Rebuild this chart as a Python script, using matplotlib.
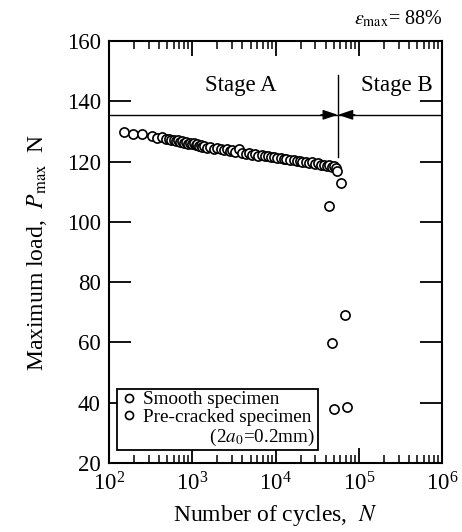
import matplotlib
matplotlib.use("Agg")
import matplotlib.pyplot as plt
from matplotlib.lines import Line2D
from matplotlib.ticker import LogLocator, NullFormatter, FixedLocator

plt.rcParams['font.family'] = ['Liberation Serif', 'DejaVu Serif']
plt.rcParams['mathtext.fontset'] = 'stix'

# Smooth specimen data (cycles, max load N)
smooth_N = [150, 195, 250, 330, 380, 430, 480, 520, 560, 600, 640, 680, 720, 760,
            800, 850, 900, 950, 1000, 1050, 1100, 1150, 1200, 1260, 1320, 1400,
            1500, 1650, 1800, 2000, 2200, 2400, 2600, 2800, 3000, 3300, 3600,
            4000, 4400, 4800, 5200, 5700, 6200, 6800, 7400, 8000, 8800, 9600,
            10500, 11500, 12500, 13500, 15000, 16500, 18000, 19500, 21000,
            23000, 25000, 27000, 29500, 32000, 35000, 38000, 41000, 44000,
            47000, 50000, 53000]
smooth_P = [129.8, 129.0, 129.1, 128.4, 127.8, 128.0, 127.5, 127.6, 127.1, 127.3,
            126.8, 127.0, 126.5, 126.7, 126.2, 126.4, 125.9, 126.1, 125.7, 126.0,
            125.4, 125.7, 125.1, 125.4, 124.9, 125.1, 124.6, 124.8, 124.3, 124.5,
            124.0, 123.8, 124.1, 123.5, 123.7, 123.2, 124.1, 122.9, 122.6, 122.8,
            122.3, 122.5, 122.0, 122.1, 121.7, 121.9, 121.4, 121.5, 121.1, 121.2,
            120.8, 120.9, 120.5, 120.6, 120.2, 120.3, 119.9, 120.0, 119.6, 119.7,
            119.3, 119.4, 119.0, 118.9, 118.6, 118.7, 118.3, 118.5, 117.9]

# Pre-cracked specimen data
crack_N = [55200, 61200, 43500, 68400, 48100, 50900, 71600]
crack_P = [117.0, 112.8, 105.3, 69.1, 59.9, 37.8, 38.5]

stage_P = 135.5
stage_N = 56000
stage_line = (121.5, 148.7)

fig = plt.figure(figsize=(4.62, 5.32), dpi=100)
ax = fig.add_axes([0.236, 0.1297, 0.721, 0.7933])

mk = dict(marker='o', linestyle='none', markersize=6.6, markerfacecolor='white',
          markeredgecolor='black', markeredgewidth=1.2)
ax.plot(smooth_N, smooth_P, **mk, zorder=3)
ax.plot(crack_N, crack_P, **mk, zorder=3)

ax.set_xscale('log')
ax.set_xlim(1e2, 1e6)
ax.set_ylim(20, 160)
ax.yaxis.set_major_locator(FixedLocator([20, 40, 60, 80, 100, 120, 140, 160]))
ax.xaxis.set_major_locator(LogLocator(base=10, numticks=10))
ax.xaxis.set_minor_locator(LogLocator(base=10, subs=range(2, 10), numticks=20))
ax.xaxis.set_minor_formatter(NullFormatter())

ax.tick_params(axis='both', which='major', direction='in', top=True, right=True,
               labelsize=16.5, width=1.3, color='black')
ax.tick_params(axis='x', which='major', length=11, pad=7)
ax.tick_params(axis='y', which='major', length=16, pad=6)
ax.tick_params(axis='x', which='minor', direction='in', top=True, length=6, width=1.1)
for s in ax.spines.values():
    s.set_linewidth(1.5)

ax.set_xlabel('Number of cycles,  $N$', fontsize=17, labelpad=5)
ax.set_ylabel('Maximum load,  $P_{\\rm max}$  N', fontsize=17, labelpad=13)

# Stage lines
ax.axhline(stage_P, color='black', linewidth=1.0, zorder=2)
ax.plot([stage_N, stage_N], stage_line, color='black', linewidth=1.0, zorder=2)
ax.annotate('', xy=(stage_N, stage_P), xytext=(stage_N / 1.6, stage_P),
            arrowprops=dict(arrowstyle='-|>,head_length=0.9,head_width=0.3',
                            color='black', lw=1.0, shrinkA=0, shrinkB=0))
ax.annotate('', xy=(stage_N, stage_P), xytext=(stage_N * 1.6, stage_P),
            arrowprops=dict(arrowstyle='-|>,head_length=0.9,head_width=0.3',
                            color='black', lw=1.0, shrinkA=0, shrinkB=0))
ax.text(10 ** 3.58, 145.3, 'Stage A', ha='center', va='center', fontsize=16.5)
ax.text(10 ** 5.46, 145.3, 'Stage B', ha='center', va='center', fontsize=16.5)

fig.text(0.957, 0.945, '$\\varepsilon_{\\rm max}$= 88%', ha='right',
         va='bottom', fontsize=14.5)

empty = Line2D([], [], linestyle='none', marker=None)
handles = [Line2D([], [], **mk), Line2D([], [], **mk), empty]
labels = ['Smooth specimen', 'Pre-cracked specimen',
          '              (2$a_0$=0.2mm)']
leg = ax.legend(handles, labels,
                loc='lower left', bbox_to_anchor=(0.024, 0.031), fontsize=13.8,
                frameon=True, fancybox=False, edgecolor='black', framealpha=1,
                handlelength=1.0, handletextpad=0.25, borderpad=0.12,
                labelspacing=0.02, borderaxespad=0)
leg.get_frame().set_linewidth(1.3)
for h in leg.legend_handles[:2]:
    h.set_markersize(5.8)

fig.savefig('out.png', dpi=100)
